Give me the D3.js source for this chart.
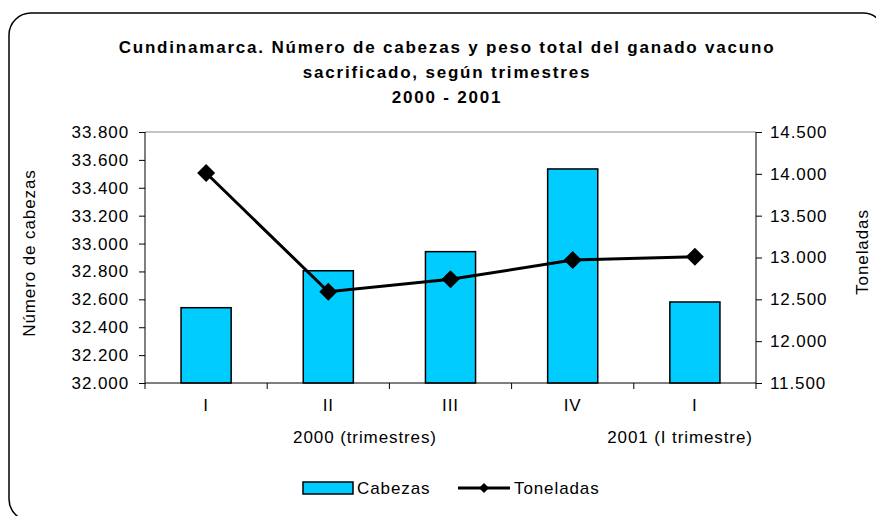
<!DOCTYPE html>
<html>
<head>
<meta charset="utf-8">
<script src="https://cdn.jsdelivr.net/npm/d3@7"></script>
<style>
  body { margin: 0; background: #fff; }
  svg { font-family: Arial, "Liberation Sans", sans-serif; }
  .lbl { font-size: 17px; letter-spacing: 0.9px; fill: #000; }
  .axis path, .axis line { stroke: #000; }
  .axis text { font-size: 17px; letter-spacing: 0.9px; fill: #000; }
</style>
</head>
<body>
<svg id="chart" width="876" height="516"></svg>
<script>
// data
var categories = ["I", "II", "III", "IV", "I"];
var cabezas = [32540, 32805, 32942, 33535, 32581];
var toneladas = [14010, 12591, 12739, 12970, 13010];
var leftTicks = [32000, 32200, 32400, 32600, 32800, 33000, 33200, 33400, 33600, 33800];
var rightTicks = [11500, 12000, 12500, 13000, 13500, 14000, 14500];
var titleLines = [
  "Cundinamarca.  Número de cabezas y peso total del ganado vacuno",
  "sacrificado, según trimestres",
  "2000 - 2001"
];

var svg = d3.select("#chart");

// plot area
var pLeft = 145, pRight = 756, pTop = 132, pBottom = 383;

var es = d3.formatLocale({decimal: ",", thousands: ".", grouping: [3], currency: ["$", ""]});
var fmt = es.format(",.0f");

var x = d3.scaleBand()
    .domain(d3.range(categories.length))
    .range([pLeft, pRight])
    .paddingInner(0.59)
    .paddingOuter(0.295);

var yL = d3.scaleLinear().domain([32000, 33800]).range([pBottom, pTop]);
var yR = d3.scaleLinear().domain([11500, 14500]).range([pBottom, pTop]);

// outer frame
svg.append("rect")
    .attr("x", 9).attr("y", 13)
    .attr("width", 876).attr("height", 508)
    .attr("rx", 22).attr("ry", 22)
    .style("fill", "none").style("stroke", "#000").style("stroke-width", 1.5);

// title
svg.append("text")
    .attr("text-anchor", "middle")
    .style("font-size", "17px").style("font-weight", "bold")
    .style("letter-spacing", "1.8px")
    .selectAll("tspan")
    .data(titleLines)
    .enter().append("tspan")
      .attr("x", 447)
      .attr("y", function(d, i) { return 53 + i * 25; })
      .text(function(d) { return d; });

// top border of plot area
svg.append("line")
    .attr("x1", pLeft).attr("x2", pRight).attr("y1", pTop).attr("y2", pTop)
    .style("stroke", "#888").style("stroke-width", 1);

// bars
svg.selectAll(".bar")
    .data(cabezas)
    .enter().append("rect")
      .attr("class", "bar")
      .attr("x", function(d, i) { return x(i); })
      .attr("y", function(d) { return yL(d); })
      .attr("width", x.bandwidth())
      .attr("height", function(d) { return pBottom - yL(d); })
      .style("fill", "#00CCFF")
      .style("stroke", "#000")
      .style("stroke-width", 1.5);

// left axis
svg.append("g")
    .attr("class", "axis")
    .attr("transform", "translate(" + pLeft + ",0)")
    .call(d3.axisLeft(yL).tickValues(leftTicks).tickFormat(fmt).tickSize(6).tickPadding(10))
    .call(function(g) { g.select(".domain").attr("d", "M0," + pTop + "V" + pBottom); });

// right axis
svg.append("g")
    .attr("class", "axis")
    .attr("transform", "translate(" + pRight + ",0)")
    .call(d3.axisRight(yR).tickValues(rightTicks).tickFormat(fmt).tickSize(6).tickPadding(8))
    .call(function(g) { g.select(".domain").attr("d", "M0," + pTop + "V" + pBottom); });

// bottom axis: ticks between categories, labels at centres
var bounds = d3.range(categories.length + 1).map(function(i) { return pLeft + i * x.step(); });
var xAxis = svg.append("g").attr("class", "axis");
xAxis.append("line")
    .attr("x1", pLeft).attr("x2", pRight).attr("y1", pBottom).attr("y2", pBottom)
    .style("stroke", "#000");
xAxis.selectAll(".xt")
    .data(bounds)
    .enter().append("line")
      .attr("x1", function(d) { return d; }).attr("x2", function(d) { return d; })
      .attr("y1", pBottom).attr("y2", pBottom + 6)
      .style("stroke", "#000");
xAxis.selectAll(".xl")
    .data(categories)
    .enter().append("text")
      .attr("x", function(d, i) { return x(i) + x.bandwidth() / 2; })
      .attr("y", 411)
      .attr("text-anchor", "middle")
      .text(function(d) { return d; });

// year labels
svg.append("text").attr("class", "lbl").attr("x", 365).attr("y", 443).attr("text-anchor", "middle")
    .text("2000 (trimestres)");
svg.append("text").attr("class", "lbl").attr("x", 680).attr("y", 443).attr("text-anchor", "middle")
    .text("2001 (I trimestre)");

// axis titles
svg.append("text")
    .attr("class", "lbl")
    .attr("transform", "translate(35,253) rotate(-90)")
    .attr("text-anchor", "middle")
    .text("Número de cabezas");
svg.append("text")
    .attr("class", "lbl")
    .attr("transform", "translate(868,252) rotate(-90)")
    .attr("text-anchor", "middle")
    .text("Toneladas");

// line series
var line = d3.line()
    .x(function(d, i) { return x(i) + x.bandwidth() / 2; })
    .y(function(d) { return yR(d); });

svg.append("path")
    .datum(toneladas)
    .attr("d", line)
    .style("fill", "none")
    .style("stroke", "#000")
    .style("stroke-width", 3);

svg.selectAll(".pt")
    .data(toneladas)
    .enter().append("path")
      .attr("class", "pt")
      .attr("transform", function(d, i) { return "translate(" + (x(i) + x.bandwidth() / 2) + "," + yR(d) + ")"; })
      .attr("d", "M0,-9L9,0L0,9L-9,0Z")
      .style("fill", "#000");

// legend
var lg = svg.append("g");
lg.append("rect")
    .attr("x", 303).attr("y", 482).attr("width", 50).attr("height", 12)
    .style("fill", "#00CCFF").style("stroke", "#000").style("stroke-width", 1.5);
lg.append("text").attr("class", "lbl").attr("x", 357).attr("y", 494).text("Cabezas");
lg.append("line")
    .attr("x1", 458).attr("x2", 510).attr("y1", 488).attr("y2", 488)
    .style("stroke", "#000").style("stroke-width", 3);
lg.append("path")
    .attr("transform", "translate(484,488)")
    .attr("d", "M0,-5L5,0L0,5L-5,0Z")
    .style("fill", "#000");
lg.append("text").attr("class", "lbl").attr("x", 514).attr("y", 494).text("Toneladas");
</script>
</body>
</html>
